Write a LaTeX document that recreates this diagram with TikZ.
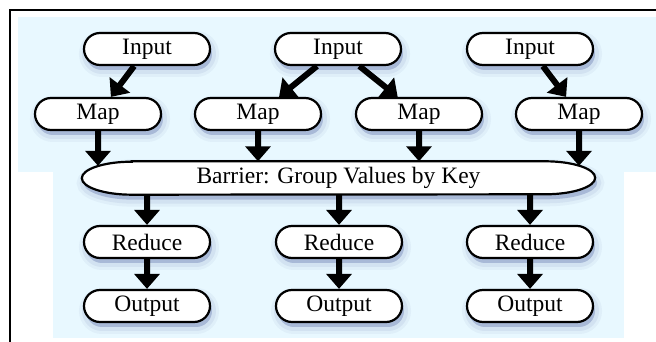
\documentclass[tikz,border=0pt]{standalone}
\usepackage{fontspec}
\setmainfont{Liberation Serif}
\usetikzlibrary{positioning,shapes.misc,shadows,arrows.meta,backgrounds}

\definecolor{paleblue}{RGB}{232,248,255}
\definecolor{shadeblue}{RGB}{60,80,150}

\tikzset{
  glow/.style={
    general shadow={draw=shadeblue, line width=14pt, opacity=.05, shadow xshift=2pt, shadow yshift=-5pt},
    general shadow={draw=shadeblue, line width=8pt, opacity=.08, shadow xshift=2pt, shadow yshift=-5pt},
    general shadow={fill=shadeblue, opacity=.28, shadow xshift=2pt, shadow yshift=-5pt}},
  pill/.style={rounded rectangle, draw, line width=2.2pt, fill=white,
    minimum width=130pt, minimum height=32pt, inner sep=2pt, glow},
  arr/.style={line width=6pt, -{Triangle[width=25pt,length=15pt]}}
}

\begin{document}
\begin{tikzpicture}[x=1pt,y=1pt,font=\fontsize{23.5}{28}\selectfont]
\useasboundingbox (0,0) rectangle (656,342);
\begin{scope}[on background layer]
\fill[paleblue] (18,170) rectangle (656,325);
\fill[paleblue] (53,4) rectangle (624,170);
\end{scope}
\draw[line width=2pt] (10,0) -- (10,332) -- (657,332);

% inputs and maps
\node[pill] (in1) at (147,293) {Input};
\node[pill] (in2) at (338,293) {Input};
\node[pill] (in3) at (530,293) {Input};
\node[pill] (map1) at (98,228) {Map};
\node[pill] (map2) at (258,228) {Map};
\node[pill] (map3) at (419,228) {Map};
\node[pill] (map4) at (579,228) {Map};

% barrier, outline goes underneath the text
\node[minimum width=513pt, minimum height=33pt] (bar) at (338.5,164) {Barrier: Group Values by Key};
\begin{scope}[on background layer]
\draw[line width=2.2pt, fill=white, glow]
  ([xshift=50pt]bar.north west) -- ([xshift=-50pt]bar.north east)
  arc[start angle=90, end angle=-90, x radius=50pt, y radius=16.5pt]
  -- ([xshift=50pt]bar.south west)
  arc[start angle=270, end angle=90, x radius=50pt, y radius=16.5pt] -- cycle;
\end{scope}

% reduces and outputs
\node[pill] (red1) at (147,100) {Reduce};
\node[pill] (red2) at (339,100) {Reduce};
\node[pill] (red3) at (530,100) {Reduce};
\node[pill] (out1) at (147,36) {Output};
\node[pill] (out2) at (339,36) {Output};
\node[pill] (out3) at (530,36) {Output};

\draw[arr] (in1) -- (map1);
\draw[arr] (in2) -- (map2);
\draw[arr] (in2) -- (map3);
\draw[arr] (in3) -- (map4);
\draw[arr] (map1) -- ([yshift=-4.5pt]map1 |- bar.north);
\draw[arr] (map2) -- (map2 |- bar.north);
\draw[arr] (map3) -- (map3 |- bar.north);
\draw[arr] (map4) -- ([yshift=-4.5pt]map4 |- bar.north);
\foreach \i in {1,2,3} {
  \draw[arr] (red\i |- bar.south) -- (red\i);
  \draw[arr] (red\i) -- (out\i);
}
\end{tikzpicture}
\end{document}
